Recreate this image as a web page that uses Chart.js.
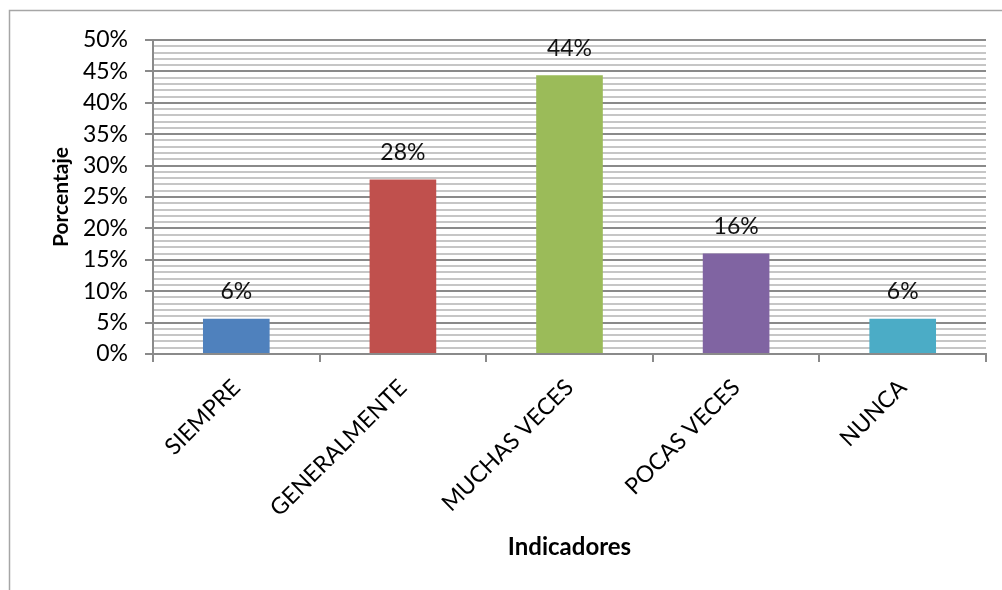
<!DOCTYPE html>
<html>
<head>
<meta charset="utf-8">
<script src="https://cdn.jsdelivr.net/npm/chart.js@4/dist/chart.umd.min.js"></script>
<style>
  html, body { margin: 0; padding: 0; background: #fff; }
  canvas { display: block; }
</style>
</head>
<body>
<canvas id="chart" width="1002" height="590"></canvas>
<script>
// Categories and percentages per indicator
const categories = ['SIEMPRE', 'GENERALMENTE', 'MUCHAS VECES', 'POCAS VECES', 'NUNCA'];
const percentages = [5.6, 27.8, 44.4, 16.0, 5.6];
const barColors = ['#4F81BD', '#C0504D', '#9BBB59', '#8064A2', '#4BACC6'];
const yTickStep = 1;      // minor grid every 1%
const yLabelStep = 5;     // labelled ticks every 5%
const yMax = 50;

const fontFamily = 'Lato, "Open Sans", sans-serif';
const majorGrey = '#8a8a8a';
const minorGrey = '#c6c6c6';

// Thin frame along the left and top edges
const framePlugin = {
    id: 'frame',
    beforeDraw(chart) {
        const ctx = chart.ctx;
        ctx.save();
        ctx.strokeStyle = '#a6a6a6';
        ctx.lineWidth = 1.5;
        ctx.beginPath();
        ctx.moveTo(9.5, chart.height);
        ctx.lineTo(9.5, 10.5);
        ctx.lineTo(chart.width, 10.5);
        ctx.stroke();
        ctx.restore();
    }
};

// Percent labels above each bar
const valueLabels = {
    id: 'valueLabels',
    afterDatasetsDraw(chart) {
        const ctx = chart.ctx;
        const meta = chart.getDatasetMeta(0);
        ctx.save();
        ctx.font = '23px ' + fontFamily;
        ctx.fillStyle = '#111';
        ctx.textAlign = 'center';
        ctx.textBaseline = 'middle';
        meta.data.forEach((bar, i) => {
            const value = chart.data.datasets[0].data[i];
            ctx.fillText(value.toFixed(0) + '%', bar.x, bar.y - 27);
        });
        ctx.restore();
    }
};

const isMajor = (value) => value % yLabelStep === 0;

const ctx = document.getElementById('chart').getContext('2d');
new Chart(ctx, {
    type: 'bar',
    data: {
        labels: categories,
        datasets: [{
            data: percentages,
            backgroundColor: barColors,
            borderWidth: 0,
            categoryPercentage: 1,
            barPercentage: 0.4
        }]
    },
    options: {
        responsive: false,
        animation: false,
        devicePixelRatio: 1,
        layout: {
            padding: { left: 0, top: 40, right: 16, bottom: 0 }
        },
        plugins: {
            legend: { display: false },
            tooltip: { enabled: false }
        },
        scales: {
            x: {
                grid: {
                    offset: true,
                    drawOnChartArea: false,
                    color: majorGrey,
                    tickLength: 8,
                    lineWidth: 2
                },
                border: { color: majorGrey, width: 2 },
                ticks: {
                    color: '#000',
                    font: { family: fontFamily, size: 23 },
                    minRotation: 45,
                    maxRotation: 45,
                    padding: 12
                },
                title: {
                    display: true,
                    text: 'Indicadores',
                    color: '#000',
                    font: { family: fontFamily, size: 24, weight: 'bold' },
                    padding: { top: 0, bottom: 28 }
                },
                afterFit(scale) {
                    scale.height = 236;
                }
            },
            y: {
                min: 0,
                max: yMax,
                grid: {
                    color: (c) => isMajor(c.tick.value) ? majorGrey : minorGrey,
                    tickColor: (c) => isMajor(c.tick.value) ? majorGrey : 'rgba(0,0,0,0)',
                    lineWidth: 2,
                    tickLength: 8
                },
                border: { color: majorGrey, width: 2 },
                ticks: {
                    stepSize: yTickStep,
                    autoSkip: false,
                    color: '#000',
                    font: { family: fontFamily, size: 23 },
                    padding: 17,
                    callback: (v) => isMajor(v) ? v + '%' : ''
                },
                title: {
                    display: true,
                    text: 'Porcentaje',
                    color: '#000',
                    font: { family: fontFamily, size: 21, weight: 'bold' },
                    padding: { top: 49, bottom: 0 }
                },
                afterFit(scale) {
                    scale.width = 153;
                }
            }
        }
    },
    plugins: [framePlugin, valueLabels]
});
</script>
</body>
</html>
